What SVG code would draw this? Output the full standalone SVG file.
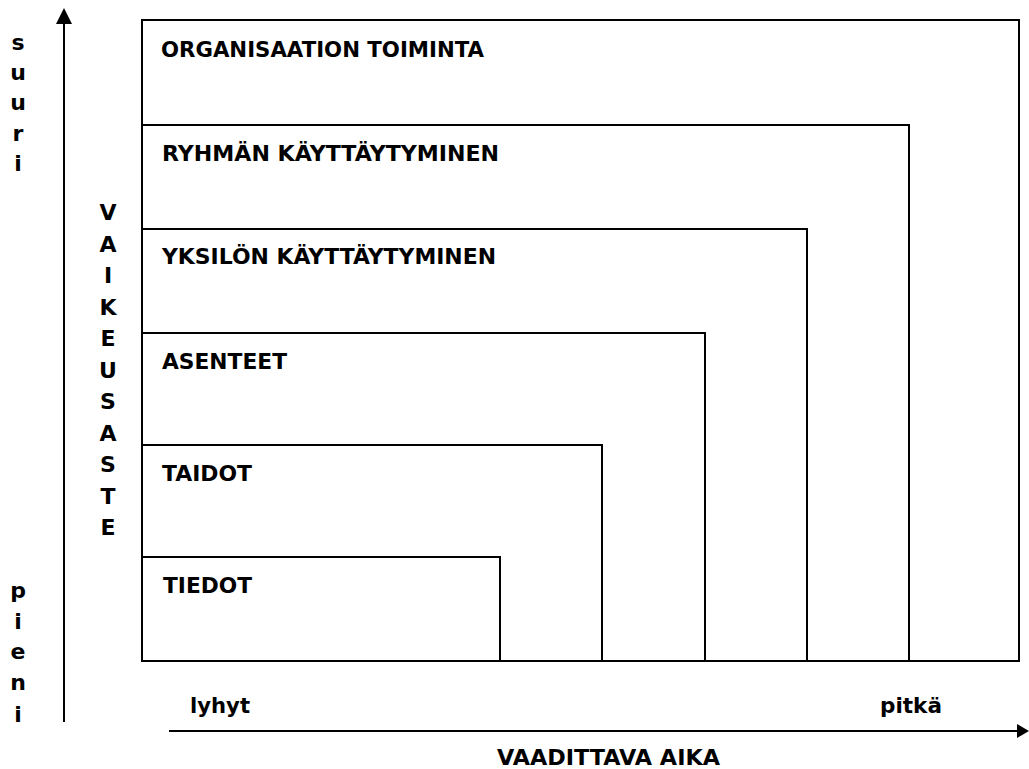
<svg xmlns="http://www.w3.org/2000/svg" width="1029" height="769" viewBox="0 0 1029 769">
  <style>
    .box { fill: none; stroke: #000; stroke-width: 2; }
    .axis { fill: none; stroke: #000; stroke-width: 2; }
    text { font-family: "DejaVu Sans", "Liberation Sans", sans-serif; font-weight: bold; font-size: 22px; fill: #000; }
    .col { text-anchor: middle; }
  </style>
  <defs>
    <!-- arrowheads: base sits on the line end, tip points outward -->
    <marker id="arrow-up" viewBox="0 0 10 10" refX="0" refY="5" markerWidth="16" markerHeight="16" markerUnits="userSpaceOnUse" orient="auto">
      <path d="M0,0 L10,5 L0,10 z" fill="#000"/>
    </marker>
    <marker id="arrow-right" viewBox="0 0 10 10" refX="0" refY="5" markerWidth="12" markerHeight="14" markerUnits="userSpaceOnUse" orient="auto" preserveAspectRatio="none">
      <path d="M0,0 L10,5 L0,10 z" fill="#000"/>
    </marker>
  </defs>
  <rect width="1029" height="769" fill="#fff"/>

  <!-- nested levels, each sharing the bottom-left corner -->
  <g id="organisaation-toiminta">
    <path class="box" d="M142,661 V20 H1019 V661 Z"/>
    <text x="161" y="57" textLength="323" lengthAdjust="spacingAndGlyphs">ORGANISAATION TOIMINTA</text>
  </g>
  <g id="ryhman-kayttaytyminen">
    <path class="box" d="M142,125 H909 V661"/>
    <text x="162" y="161" textLength="337" lengthAdjust="spacingAndGlyphs">RYHMÄN KÄYTTÄYTYMINEN</text>
  </g>
  <g id="yksilon-kayttaytyminen">
    <path class="box" d="M142,229 H807 V661"/>
    <text x="162" y="264" textLength="334" lengthAdjust="spacingAndGlyphs">YKSILÖN KÄYTTÄYTYMINEN</text>
  </g>
  <g id="asenteet">
    <path class="box" d="M142,333 H705 V661"/>
    <text x="162" y="369" textLength="125" lengthAdjust="spacingAndGlyphs">ASENTEET</text>
  </g>
  <g id="taidot">
    <path class="box" d="M142,445 H602 V661"/>
    <text x="162" y="481" textLength="90" lengthAdjust="spacingAndGlyphs">TAIDOT</text>
  </g>
  <g id="tiedot">
    <path class="box" d="M142,557 H500 V661"/>
    <text x="163" y="593" textLength="89" lengthAdjust="spacingAndGlyphs">TIEDOT</text>
  </g>

  <!-- axes -->
  <g id="axes">
    <line class="axis" x1="64" y1="722" x2="64" y2="24" marker-end="url(#arrow-up)"/>
    <line class="axis" x1="169" y1="731" x2="1017" y2="731" marker-end="url(#arrow-right)"/>
  </g>

  <!-- vertical axis labels -->
  <g id="y-labels">
    <text class="col" x="18" y="50">s</text>
    <text class="col" x="18" y="80">u</text>
    <text class="col" x="18" y="110">u</text>
    <text class="col" x="18" y="141">r</text>
    <text class="col" x="18" y="171">i</text>

    <text class="col" x="108" y="220">V</text>
    <text class="col" x="108" y="251.5">A</text>
    <text class="col" x="108" y="283">I</text>
    <text class="col" x="108" y="314.5">K</text>
    <text class="col" x="108" y="346">E</text>
    <text class="col" x="108" y="377.5">U</text>
    <text class="col" x="108" y="409">S</text>
    <text class="col" x="108" y="440.5">A</text>
    <text class="col" x="108" y="472">S</text>
    <text class="col" x="108" y="503.5">T</text>
    <text class="col" x="108" y="535">E</text>

    <text class="col" x="18" y="598">p</text>
    <text class="col" x="18" y="629">i</text>
    <text class="col" x="18" y="659">e</text>
    <text class="col" x="18" y="690">n</text>
    <text class="col" x="18" y="722">i</text>
  </g>

  <!-- horizontal axis labels -->
  <g id="x-labels">
    <text x="190" y="713" textLength="60" lengthAdjust="spacingAndGlyphs">lyhyt</text>
    <text x="880" y="713" textLength="62" lengthAdjust="spacingAndGlyphs">pitkä</text>
    <text x="497" y="765" textLength="223" lengthAdjust="spacingAndGlyphs">VAADITTAVA AIKA</text>
  </g>
</svg>
